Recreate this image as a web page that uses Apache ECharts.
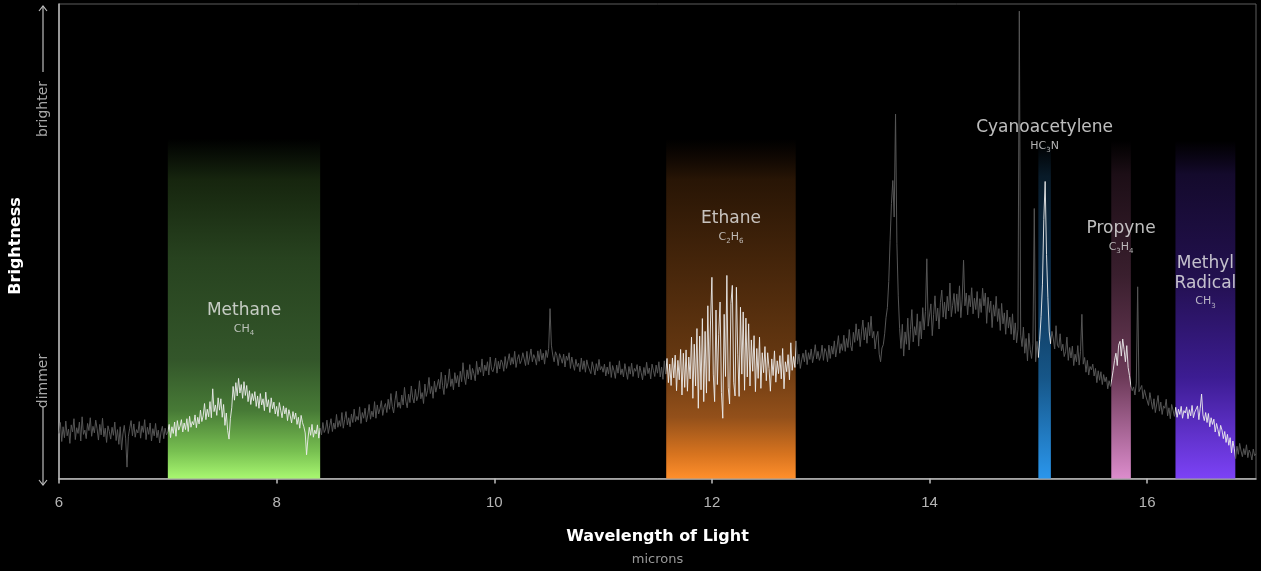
<!DOCTYPE html>
<html><head><meta charset="utf-8">
<script src="https://cdn.jsdelivr.net/npm/echarts@6/dist/echarts.min.js"></script>
<style>html,body{margin:0;padding:0;background:#000;}#c{width:1261px;height:571px;}</style>
</head><body><div id="c"></div>
<script>
// ---- data ----
const X_START = 6, X_STEP = 0.0125;   // sampling grid of the spectrum (microns)
const flux06 = [9.5, 11.8, 7.8, 10.9, 8.6, 12.1, 9.0, 10.4, 7.4, 11.3,
 9.8, 12.6, 8.2, 10.7, 9.5, 11.9, 7.9, 13.0, 9.3, 10.2,
 8.4, 11.6, 10.1, 12.8, 8.9, 11.0, 9.6, 12.3, 10.5, 8.1,
 11.4, 9.2, 12.7, 8.8, 10.6, 7.6, 11.1, 9.9, 8.3, 10.8,
 9.1, 11.9, 8.0, 10.3, 7.2, 10.9, 6.0, 9.4, 11.2, 8.5,
 2.4, 8.9, 10.6, 12.2, 9.0, 11.5, 8.7, 10.3, 9.6, 12.0,
 8.5, 11.1, 9.7, 12.4, 8.2, 10.8, 9.3, 11.7, 7.9, 10.5,
 9.0, 11.6, 8.6, 10.2, 7.5, 9.8, 11.0, 8.4, 10.6, 9.2];
const flux07 = [9.8, 11.4, 8.6, 10.9, 9.5, 11.9, 8.9, 12.2, 10.2, 11.0,
 12.4, 9.8, 11.7, 10.3, 12.6, 9.9, 13.1, 10.8, 12.0, 11.3,
 13.4, 10.7, 12.9, 11.5, 14.4, 12.0, 13.2, 15.8, 12.4, 14.6,
 13.0, 16.2, 12.8, 18.9, 14.1, 15.5, 13.3, 17.0, 14.4, 16.8,
 12.9, 15.6, 11.2, 13.8, 10.1, 8.3, 12.6, 14.9, 19.4, 16.5,
 20.2, 17.4, 21.1, 18.0, 19.8, 16.9, 20.4, 17.5, 19.6, 16.2,
 18.5, 15.6, 17.9, 16.4, 18.3, 15.2, 17.4, 14.8, 17.9, 15.5,
 16.8, 14.3, 18.2, 15.1, 16.6, 13.9, 17.0, 14.7, 16.1, 13.6];
const flux08 = [15.2, 13.1, 16.0, 14.4, 12.8, 15.3, 13.6, 14.9, 12.2, 14.5,
 13.2, 11.7, 14.1, 12.5, 13.8, 11.4, 12.9, 10.6, 13.3, 11.8,
 10.9, 9.6, 5.0, 8.3, 10.8, 9.1, 11.4, 8.7, 10.2, 9.4,
 11.3, 8.5, 10.6, 9.2, 11.8, 9.7, 10.4, 12.3, 9.5, 11.1,
 12.6, 9.9, 11.7, 10.4, 13.5, 10.8, 12.2, 11.0, 13.9, 10.6,
 12.4, 14.1, 11.3, 12.8, 10.9, 13.6, 11.8, 14.6, 12.0, 13.1,
 12.3, 15.1, 11.6, 13.9, 12.7, 14.8, 11.9, 13.4, 15.6, 12.5,
 14.2, 13.0, 16.2, 12.7, 15.5, 13.6, 14.7, 16.4, 13.3, 15.0];
const flux09 = [15.8, 13.9, 16.7, 14.6, 17.9, 15.2, 13.8, 16.4, 18.4, 15.0,
 16.1, 14.8, 17.6, 15.5, 19.2, 16.3, 14.9, 17.8, 16.0, 19.5,
 17.0, 15.9, 18.8, 16.4, 17.4, 20.6, 16.8, 18.1, 15.8, 19.9,
 17.3, 18.6, 21.3, 17.9, 19.4, 16.9, 20.5, 18.2, 17.8, 20.9,
 18.9, 22.4, 19.6, 17.7, 21.8, 19.0, 20.2, 23.1, 19.4, 21.0,
 18.7, 22.3, 20.1, 21.7, 19.3, 22.6, 20.4, 24.4, 21.4, 19.8,
 22.9, 21.0, 24.0, 20.8, 23.2, 22.1, 20.6, 24.7, 21.9, 23.5,
 22.4, 25.2, 21.6, 23.9, 22.7, 24.6, 21.8, 25.6, 23.0, 22.5];
const flux10 = [23.6, 25.4, 22.2, 24.7, 23.1, 25.0, 24.4, 22.6, 25.7, 23.2,
 24.8, 26.3, 23.9, 25.5, 24.1, 26.8, 23.4, 25.1, 26.1, 24.2,
 24.9, 26.5, 25.2, 23.8, 26.8, 24.0, 25.6, 27.3, 24.6, 26.1,
 25.3, 23.9, 26.9, 24.7, 27.2, 25.0, 26.4, 24.1, 27.0, 25.5,
 27.4, 35.8, 28.1, 26.0, 24.6, 26.7, 25.9, 23.8, 26.3, 25.4,
 24.3, 26.2, 23.5, 25.8, 24.9, 26.5, 23.2, 25.6, 24.0, 22.8,
 25.1, 23.6, 24.3, 22.5, 25.4, 23.0, 24.8, 22.4, 25.0, 23.7,
 24.0, 22.1, 24.6, 23.3, 21.8, 24.2, 22.7, 25.1, 22.9, 23.6];
const flux11 = [22.4, 24.1, 21.6, 23.5, 22.0, 24.6, 21.3, 23.8, 22.7, 21.1,
 23.9, 22.2, 24.8, 21.9, 23.1, 21.4, 24.2, 22.5, 20.9, 23.6,
 22.0, 24.3, 21.5, 23.2, 22.6, 24.0, 21.2, 23.7, 22.3, 20.8,
 23.4, 21.7, 24.5, 22.1, 23.3, 21.0, 24.1, 22.8, 21.5, 23.9,
 22.2, 24.6, 21.4, 23.5, 20.9, 24.8, 22.0, 25.3, 20.2, 24.1,
 19.6, 25.4, 21.2, 26.0, 18.5, 24.9, 20.8, 27.2, 17.6, 26.4,
 19.2, 27.1, 18.4, 25.6, 21.0, 29.8, 16.9, 28.3, 19.5, 31.6,
 14.8, 30.0, 18.7, 33.7, 16.2, 31.0, 18.0, 36.4, 20.5, 33.2];
const flux12 = [42.4, 22.0, 16.2, 35.5, 19.8, 30.4, 37.2, 18.1, 12.7, 34.6,
 21.5, 42.8, 19.2, 15.7, 36.9, 40.7, 20.3, 17.4, 40.3, 26.2,
 17.3, 36.1, 22.0, 35.1, 18.6, 33.8, 21.4, 32.6, 19.5, 29.2,
 22.6, 30.1, 18.3, 27.4, 21.1, 29.8, 19.0, 26.5, 22.3, 27.8,
 20.6, 26.5, 23.2, 18.4, 25.2, 21.7, 26.9, 20.3, 24.8, 22.1,
 25.9, 21.0, 27.4, 18.9, 24.6, 22.5, 26.1, 20.8, 28.6, 22.8,
 25.7, 23.4, 29.0, 24.1, 26.2, 23.2, 25.0, 26.4, 24.6, 27.1,
 24.0, 26.5, 25.1, 27.3, 24.4, 26.0, 28.2, 25.2, 26.8, 24.9];
const flux13 = [25.8, 28.1, 24.9, 27.4, 26.7, 24.6, 28.1, 25.3, 27.9, 26.2,
 29.0, 25.6, 27.7, 30.1, 26.4, 28.4, 27.0, 30.2, 26.8, 29.5,
 27.6, 31.4, 28.0, 26.9, 30.8, 28.7, 32.6, 29.1, 31.5, 27.8,
 30.9, 33.4, 29.2, 31.8, 28.5, 32.9, 30.1, 34.2, 29.6, 31.0,
 27.3, 29.8, 31.0, 26.2, 24.6, 27.5, 28.2, 30.5, 33.9, 36.0,
 41.5, 50.2, 58.0, 62.8, 55.1, 76.8, 49.5, 38.5, 31.6, 27.4,
 32.5, 25.8, 30.9, 28.3, 33.8, 27.1, 31.4, 35.6, 28.8, 32.0,
 30.2, 34.7, 27.9, 33.1, 29.4, 36.0, 31.3, 35.2, 46.3, 32.1];
const flux14 = [32.4, 36.8, 30.1, 34.6, 38.5, 33.2, 35.9, 31.5, 37.1, 39.7,
 34.0, 37.2, 33.6, 38.4, 35.3, 41.2, 34.1, 36.5, 39.0, 34.8,
 38.9, 35.2, 40.6, 33.9, 37.8, 46.0, 36.4, 39.1, 34.5, 38.6,
 36.2, 40.2, 34.7, 38.0, 35.6, 39.4, 33.8, 37.9, 35.0, 40.1,
 36.4, 39.1, 32.7, 38.2, 35.0, 37.4, 31.8, 36.6, 34.2, 38.4,
 33.1, 35.8, 31.2, 36.9, 32.6, 34.9, 30.4, 35.5, 31.7, 34.0,
 30.4, 34.7, 29.2, 32.8, 28.6, 31.4, 98.5, 30.2, 27.8, 31.9,
 26.4, 29.5, 24.8, 30.6, 27.2, 25.3, 28.4, 56.9, 24.6, 28.9];
const flux15 = [25.5, 29.3, 34.1, 40.8, 54.6, 62.6, 47.2, 38.1, 30.9, 28.4,
 31.0, 29.4, 27.3, 32.2, 28.1, 27.6, 30.5, 26.9, 28.3, 25.7,
 26.7, 29.8, 24.9, 27.6, 25.4, 27.9, 23.8, 26.2, 24.6, 28.0,
 23.9, 26.8, 34.6, 24.1, 25.5, 22.4, 24.9, 21.8, 23.6, 22.9,
 24.1, 21.6, 23.2, 20.2, 22.7, 20.7, 22.5, 19.8, 21.9, 20.4,
 21.4, 18.9, 20.6, 19.4, 21.0, 22.8, 24.9, 26.4, 23.8, 28.1,
 28.9, 25.8, 29.4, 27.2, 24.6, 28.0, 23.4, 21.7, 19.6, 18.5,
 19.3, 17.6, 20.1, 40.4, 18.3, 17.9, 19.6, 16.8, 18.7, 17.4];
const flux16 = [17.2, 15.4, 18.1, 16.3, 14.6, 16.8, 13.9, 15.7, 17.5, 14.2,
 16.1, 13.5, 15.3, 14.8, 16.7, 13.2, 14.9, 12.6, 15.6, 14.4,
 13.1, 15.0, 12.9, 14.6, 13.5, 15.2, 12.7, 14.3, 13.8, 15.1,
 12.6, 14.5, 13.2, 15.4, 12.8, 14.0, 13.6, 15.3, 12.4, 14.8,
 17.8, 13.4, 12.2, 13.9, 11.8, 13.7, 10.9, 12.8, 11.4, 12.5,
 9.8, 11.6, 10.3, 8.9, 11.2, 10.2, 8.4, 9.9, 7.6, 9.3,
 7.0, 8.6, 5.4, 7.9, 6.3, 4.2, 6.8, 5.1, 7.4, 5.8,
 4.6, 6.3, 5.0, 7.1, 4.4, 6.0, 5.3, 3.9, 6.2, 4.8,
 5.2];

const xTickValues = [6, 8, 10, 12, 14, 16];
const bandNames = ['Methane', 'Ethane', 'Cyanoacetylene', 'Propyne', 'Methyl\nRadical'];
const bandFormulas = [[['CH','4']], [['C','2'],['H','6']], [['HC','3'],['N','']], [['C','3'],['H','4']], [['CH','3']]];
const bandStart = [7.0, 11.58, 15.0, 15.67, 16.26];
const bandEnd   = [8.4, 12.77, 15.115, 15.85, 16.81];
const bandTop   = [71.6, 71.6, 70.8, 71.2, 71.2];
const labelY    = [33.6, 53.0, 72.2, 50.9, 41.5];

// ---- styles ----
const G = echarts.graphic.LinearGradient;
const bandFills = [
  [[0,'rgba(20,35,15,0)'],[0.12,'#16250e'],[0.35,'#27421f'],[0.65,'#33562a'],[0.8,'#477a36'],[0.92,'#78c051'],[1,'#a8f770']],
  [[0,'rgba(30,15,5,0)'],[0.12,'#281505'],[0.35,'#43240a'],[0.65,'#663811'],[0.82,'#93501a'],[0.93,'#d8741f'],[1,'#ff8f2c']],
  [[0,'rgba(8,26,40,0)'],[0.1,'#081a28'],[0.4,'#0e3150'],[0.7,'#165688'],[1,'#2a96ec']],
  [[0,'rgba(28,14,20,0)'],[0.1,'#1c0e16'],[0.4,'#3a1f2e'],[0.7,'#6c3a58'],[1,'#dc8ccc']],
  [[0,'rgba(18,8,38,0)'],[0.1,'#140a2c'],[0.4,'#22104e'],[0.7,'#3c1c92'],[1,'#7c42f6']]
];
const GRAY = '#555555', WHITE = 'rgba(236,236,236,0.9)';

const flux = [].concat(flux06, flux07, flux08, flux09, flux10, flux11, flux12, flux13, flux14, flux15, flux16);
const spectrum = flux.map((v, i) => [Math.round((X_START + i * X_STEP) * 10000) / 10000, v]);

const pieces = [];
let prev = -Infinity;
bandStart.forEach((s, i) => {
  pieces.push({ gte: prev, lt: s, color: GRAY });
  pieces.push({ gte: s, lt: bandEnd[i], color: WHITE });
  prev = bandEnd[i];
});
pieces.push({ gte: prev, lt: 100, color: GRAY });

const bands = bandStart.map((s, i) => [s, bandEnd[i], bandTop[i], i]);
const labels = bandStart.map((s, i) => [(s + bandEnd[i]) / 2, labelY[i], i]);

function labelText(i) {
  const name = bandNames[i].split('\n').map(t => '{n|' + t + '}').join('\n');
  const f = bandFormulas[i].map(([a, b]) => '{f|' + a + '}' + (b ? '{s|' + b + '}' : '')).join('');
  return name + '\n' + f;
}

const FONT = 'Liberation Sans';
const WFONT = 'DejaVu Sans';
const chart = echarts.init(document.getElementById('c'));
chart.setOption({
  backgroundColor: '#000',
  animation: false,
  grid: { left: 59, right: 5, top: 4, bottom: 88, show: true, borderColor: '#5c5c5c', borderWidth: 1 },
  xAxis: {
    type: 'value', min: 6, max: 17, interval: 2,
    axisLine: { show: true, lineStyle: { color: '#bdbdbd', width: 1.5 } },
    axisTick: { show: true, length: 5, lineStyle: { color: '#bdbdbd', width: 1.5 }, customValues: xTickValues },
    axisLabel: { color: '#b5b5b5', fontSize: 15, fontFamily: FONT, margin: 17, customValues: xTickValues },
    splitLine: { show: false },
    name: '{t|Wavelength of Light}\n{u|microns}',
    nameLocation: 'middle', nameGap: 47,
    nameTextStyle: {
      rich: {
        t: { fontSize: 16, fontWeight: 'bold', color: '#ffffff', fontFamily: WFONT, lineHeight: 22 },
        u: { fontSize: 13, color: '#9a9a9a', fontFamily: WFONT, lineHeight: 24 }
      }
    }
  },
  yAxis: {
    type: 'value', min: 0, max: 100,
    axisLine: { show: true, lineStyle: { color: '#bdbdbd', width: 1.5 } },
    axisTick: { show: false }, axisLabel: { show: false }, splitLine: { show: false }
  },
  visualMap: { show: false, type: 'piecewise', dimension: 0, seriesIndex: 1, pieces: pieces },
  series: [
    {
      type: 'custom', z: 1, silent: true,
      encode: { x: [0, 1], y: 2 },
      data: bands,
      renderItem: function (params, api) {
        const i = api.value(3);
        const p0 = api.coord([api.value(0), api.value(2)]);
        const p1 = api.coord([api.value(1), 0]);
        return {
          type: 'rect',
          shape: { x: p0[0], y: p0[1], width: p1[0] - p0[0], height: p1[1] - p0[1] },
          style: { fill: new G(0, 0, 0, 1, bandFills[i].map(([o, c]) => ({ offset: o, color: c }))) }
        };
      }
    },
    {
      type: 'line', z: 3, silent: true, data: spectrum,
      showSymbol: false, symbol: 'none', smooth: false,
      lineStyle: { width: 1 }
    },
    {
      type: 'scatter', z: 5, silent: true, data: labels,
      symbolSize: 1, itemStyle: { color: 'transparent' },
      label: {
        show: true, position: 'inside',
        formatter: p => labelText(p.value[2]),
        rich: {
          n: { fontSize: 17, color: '#ececec', fontFamily: WFONT, lineHeight: 20 },
          f: { fontSize: 11, color: '#dedede', fontFamily: WFONT, lineHeight: 16 },
          s: { fontSize: 7, color: '#dedede', fontFamily: WFONT, verticalAlign: 'bottom' }
        }
      }
    }
  ],
  graphic: [
    { type: 'text', x: 16, y: 246, rotation: Math.PI / 2,
      style: { text: 'Brightness', fill: '#fff', font: 'bold 16px "DejaVu Sans"', align: 'center', verticalAlign: 'middle' } },
    { type: 'text', x: 43, y: 109, rotation: Math.PI / 2,
      style: { text: 'brighter', fill: '#a8a8a8', font: '14px "DejaVu Sans"', align: 'center', verticalAlign: 'middle' } },
    { type: 'text', x: 43, y: 381, rotation: Math.PI / 2,
      style: { text: 'dimmer', fill: '#a8a8a8', font: '14px "DejaVu Sans"', align: 'center', verticalAlign: 'middle' } },
    { type: 'polyline', shape: { points: [[43, 72], [43, 6]] }, style: { stroke: '#bdbdbd', lineWidth: 1.2 } },
    { type: 'polyline', shape: { points: [[39, 11], [43, 6], [47, 11]] }, style: { stroke: '#bdbdbd', lineWidth: 1.2, fill: null } },
    { type: 'polyline', shape: { points: [[43, 407], [43, 485]] }, style: { stroke: '#bdbdbd', lineWidth: 1.2 } },
    { type: 'polyline', shape: { points: [[39, 480], [43, 485], [47, 480]] }, style: { stroke: '#bdbdbd', lineWidth: 1.2, fill: null } }
  ]
});
</script></body></html>
